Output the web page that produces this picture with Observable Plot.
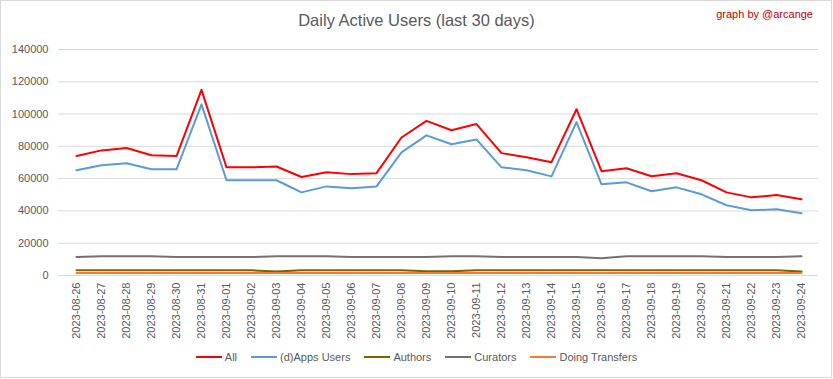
<!DOCTYPE html>
<html>
<head>
<meta charset="utf-8">
<script src="https://cdn.jsdelivr.net/npm/d3@7"></script>
<script src="https://cdn.jsdelivr.net/npm/@observablehq/plot@0.6"></script>
<style>
  html, body { margin: 0; padding: 0; background: #fff; }
  #wrap { position: relative; width: 833px; height: 379px; font-family: "Liberation Sans", Arial, sans-serif; overflow: hidden; }
  #frame { position: absolute; left: 0; top: 0; width: 832px; height: 378px; box-sizing: border-box; border: 1px solid #d9d9d9; }
  #title { position: absolute; left: 0; width: 833px; top: 11px; text-align: center; font-size: 16.5px; color: #595959; }
  #credit { position: absolute; right: 20px; top: 8px; font-size: 11px; color: #c00000; }
  #chart { position: absolute; left: 0; top: 0; }
  #legend { position: absolute; left: 0; width: 833px; top: 351px; display: flex; justify-content: center; font-size: 11px; color: #595959; }
  .item { display: flex; align-items: center; margin: 0 7px; }
  .sw { width: 26px; height: 2px; margin-right: 3px; }
</style>
</head>
<body>
<div id="wrap">
  <div id="frame"></div>
  <div id="chart"></div>
  <div id="title">Daily Active Users (last 30 days)</div>
  <div id="credit">graph by @arcange</div>
  <div id="legend"></div>
</div>
<script>
const dates = ["2023-08-26","2023-08-27","2023-08-28","2023-08-29","2023-08-30","2023-08-31","2023-09-01","2023-09-02","2023-09-03","2023-09-04","2023-09-05","2023-09-06","2023-09-07","2023-09-08","2023-09-09","2023-09-10","2023-09-11","2023-09-12","2023-09-13","2023-09-14","2023-09-15","2023-09-16","2023-09-17","2023-09-18","2023-09-19","2023-09-20","2023-09-21","2023-09-22","2023-09-23","2023-09-24"];
const allUsers = [74000,77500,79000,74500,74000,115000,67000,67000,67500,61000,64000,62800,63400,85500,95800,90000,93800,75800,73200,70200,103000,64600,66400,61500,63300,59000,51500,48400,49800,47200];
const appsUsers = [65200,68300,69500,65800,65800,106000,59000,59000,59000,51500,55200,54000,55200,76300,86800,81300,84300,67000,65200,61400,95000,56500,57700,52200,54600,50300,43500,40400,41000,38500];
const authors = [3200,3200,3200,3200,3200,3200,3200,3200,2500,3200,3200,3200,3200,3200,2600,2600,3200,3200,3200,3200,3200,3200,3200,3200,3200,3200,3200,3200,3200,2500];
const curators = [11400,12000,12000,12000,11400,11400,11400,11400,12000,12000,12000,11400,11400,11400,11400,12000,12000,11400,11400,11400,11400,10700,12000,12000,12000,12000,11400,11400,11400,12000];
const transfers = [1600,1600,1600,1600,1600,1600,1600,1600,1600,1600,1600,1600,1600,1600,1600,1600,1600,1600,1600,1600,1600,1600,1600,1600,1600,1600,1600,1600,1600,1600];
const seriesNames = ["All","(d)Apps Users","Authors","Curators","Doing Transfers"];
const seriesColors = ["#ff0000","#5b9bd5","#7f6000","#767171","#ed7d31"];
const yTicks = [0,20000,40000,60000,80000,100000,120000,140000];

const seriesValues = [allUsers, appsUsers, authors, curators, transfers];
const rows = [];
seriesNames.forEach((name, i) => {
  dates.forEach((d, j) => rows.push({date: d, value: seriesValues[i][j], series: name}));
});

const chart = Plot.plot({
  width: 833,
  height: 345,
  marginTop: 49,
  marginBottom: 70,
  marginLeft: 58,
  marginRight: 15,
  style: { fontFamily: "Liberation Sans, Arial, sans-serif", fontSize: "11px", color: "#595959", background: "transparent", overflow: "visible" },
  x: { type: "point", domain: dates, padding: 0.5 },
  y: { domain: [0, 140000] },
  color: { domain: seriesNames, range: seriesColors },
  marks: [
    Plot.gridY(yTicks, { stroke: "#d9d9d9", strokeOpacity: 1, strokeWidth: 1 }),
    Plot.axisY(yTicks, { tickSize: 0, tickPadding: 10, tickFormat: d => String(d), label: null, fill: "#595959" }),
    Plot.axisX({ tickRotate: -90, tickSize: 0, tickPadding: 7, label: null, fill: "#595959" }),
    Plot.lineY(rows, { x: "date", y: "value", z: "series", stroke: "series", strokeWidth: 2, strokeLinejoin: "round" })
  ]
});
document.getElementById("chart").appendChild(chart);

const legend = document.getElementById("legend");
seriesNames.forEach((name, i) => {
  const it = document.createElement("div");
  it.className = "item";
  const sw = document.createElement("div");
  sw.className = "sw";
  sw.style.background = seriesColors[i];
  const tx = document.createElement("span");
  tx.textContent = name;
  it.appendChild(sw); it.appendChild(tx);
  legend.appendChild(it);
});
</script>
</body>
</html>
